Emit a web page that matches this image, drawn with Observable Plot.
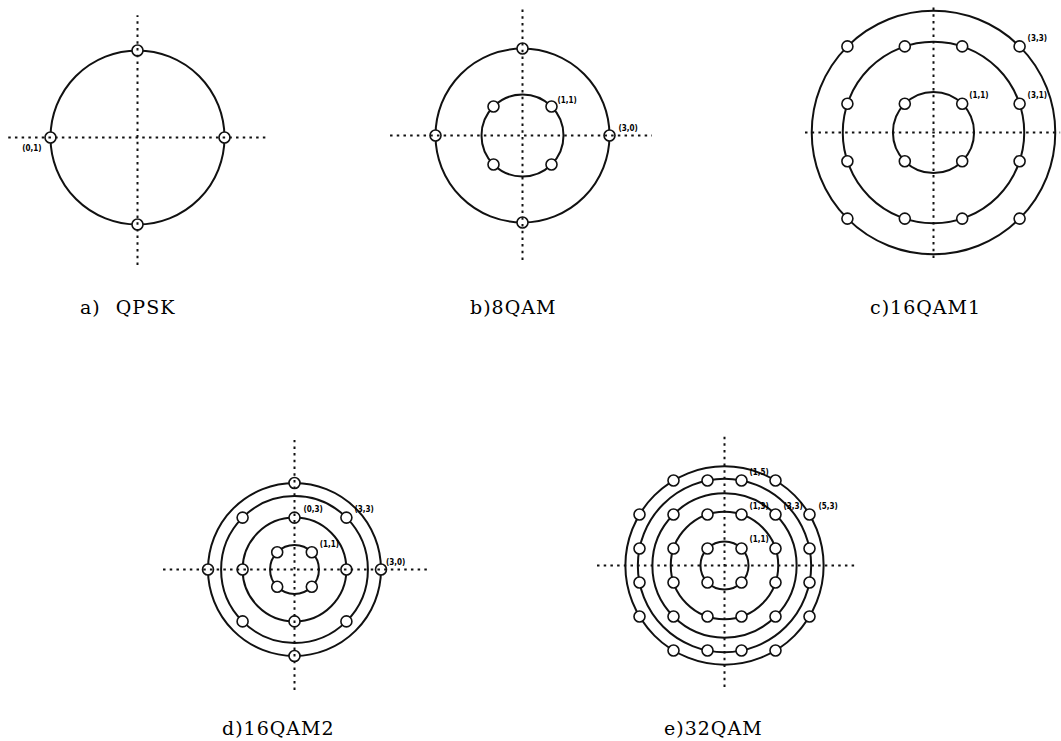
<!DOCTYPE html>
<html>
<head>
<meta charset="utf-8">
<script src="https://cdn.jsdelivr.net/npm/d3@7"></script>
<script src="https://cdn.jsdelivr.net/npm/@observablehq/plot@0.6"></script>
<style>
  html, body { margin: 0; padding: 0; background: #fff; overflow: hidden; }
  #page { position: relative; width: 1061px; height: 741px; }
  .panel { position: absolute; }
  .cap { position: absolute; font-family: "DejaVu Serif", serif; font-size: 19px;
         letter-spacing: 1px; word-spacing: 8px; color: #000; white-space: nowrap; line-height: 1; }
</style>
</head>
<body>
<div id="page"></div>
<script>
// ---- Data (constellation coordinates in grid units) ----
const captions = ["a) QPSK", "b)8QAM", "c)16QAM1", "d)16QAM2", "e)32QAM"];

const qpskPoints = [[1, 0], [0, 1], [-1, 0], [0, -1]];
const qpskRings = [1];
const qpskLabels = [{x: -1, y: 0, text: "(0,1)"}];

const qam8Points = [[1, 1], [-1, 1], [-1, -1], [1, -1], [3, 0], [0, 3], [-3, 0], [0, -3]];
const qam8Rings = [1.414, 3];
const qam8Labels = [{x: 1, y: 1, text: "(1,1)"}, {x: 3, y: 0, text: "(3,0)"}];

const qam16aPoints = [
  [1, 1], [-1, 1], [-1, -1], [1, -1],
  [1, 3], [-1, 3], [1, -3], [-1, -3], [3, 1], [-3, 1], [3, -1], [-3, -1],
  [3, 3], [-3, 3], [3, -3], [-3, -3]
];
const qam16aRings = [1.414, 3.162, 4.243];
const qam16aLabels = [{x: 1, y: 1, text: "(1,1)"}, {x: 3, y: 1, text: "(3,1)"}, {x: 3, y: 3, text: "(3,3)"}];

const qam16bPoints = [
  [1, 1], [-1, 1], [-1, -1], [1, -1],
  [0, 3], [3, 0], [0, -3], [-3, 0],
  [3, 3], [-3, 3], [3, -3], [-3, -3],
  [0, 5], [5, 0], [0, -5], [-5, 0]
];
const qam16bRings = [1.414, 3, 4.243, 5];
const qam16bLabels = [{x: 0, y: 3, text: "(0,3)"}, {x: 1, y: 1, text: "(1,1)"}, {x: 3, y: 3, text: "(3,3)"}, {x: 5, y: 0, text: "(3,0)"}];

const qam32Points = [
  [1, 1], [-1, 1], [-1, -1], [1, -1],
  [1, 3], [-1, 3], [1, -3], [-1, -3], [3, 1], [-3, 1], [3, -1], [-3, -1],
  [3, 3], [-3, 3], [3, -3], [-3, -3],
  [1, 5], [-1, 5], [1, -5], [-1, -5], [5, 1], [-5, 1], [5, -1], [-5, -1],
  [3, 5], [-3, 5], [3, -5], [-3, -5], [5, 3], [-5, 3], [5, -3], [-5, -3]
];
const qam32Rings = [1.414, 3.162, 4.243, 5.099, 5.831];
const qam32Labels = [
  {x: 1, y: 5, text: "(1,5)"}, {x: 1, y: 3, text: "(1,3)"}, {x: 3, y: 3, text: "(3,3)"},
  {x: 5, y: 3, text: "(5,3)"}, {x: 1, y: 1, text: "(1,1)"}
];

// ---- Layout (pixels) ----
const layouts = [
  {cx: 137, cy: 137, u: 87,   ax: [-1.48, 1.49], ay: [-1.47, 1.40], cap: [80, 298], lab: [{dx: -9, dy: 11, anchor: "end"}]},
  {cx: 522, cy: 135, u: 29,   ax: [-4.55, 4.48], ay: [-4.31, 4.41], cap: [470, 298], lab: [{dx: 6, dy: -6}, {dx: 9, dy: -7}]},
  {cx: 933, cy: 132, u: 28.7, ax: [-4.46, 4.43], ay: [-4.39, 4.42], cap: [870, 298], lab: [{dx: 7, dy: -8}, {dx: 8, dy: -8}, {dx: 8, dy: -8}]},
  {cx: 294, cy: 569, u: 17.3, ax: [-7.57, 7.69], ay: [-7.0, 7.46],  cap: [222, 719], lab: [{dx: 9, dy: -8}, {dx: 8, dy: -8}, {dx: 8, dy: -8}, {dx: 5, dy: -7}]},
  {cx: 724, cy: 565, u: 17,   ax: [-7.47, 7.7], ay: [-7.18, 7.65], cap: [664, 719], lab: [{dx: 8, dy: -8}, {dx: 8, dy: -8}, {dx: 8, dy: -8}, {dx: 9, dy: -8}, {dx: 8, dy: -9}]}
];

const sets = [
  {points: qpskPoints, rings: qpskRings, labels: qpskLabels},
  {points: qam8Points, rings: qam8Rings, labels: qam8Labels},
  {points: qam16aPoints, rings: qam16aRings, labels: qam16aLabels},
  {points: qam16bPoints, rings: qam16bRings, labels: qam16bLabels},
  {points: qam32Points, rings: qam32Rings, labels: qam32Labels}
];

const page = document.getElementById("page");
const HALF = 140;

sets.forEach((s, i) => {
  const L = layouts[i];
  const left = L.cx - HALF, top = L.cy - HALF, W = 2 * HALF, H = 2 * HALF;
  const labels = s.labels.map((d, j) => ({...d, ...L.lab[j]}));
  const dash = {stroke: "#111", strokeWidth: 2, strokeDasharray: "2.5,4.2"};
  const chart = Plot.plot({
    width: W, height: H, margin: 0,
    x: {domain: [(left - L.cx) / L.u, (left + W - L.cx) / L.u], axis: null},
    y: {domain: [(L.cy - (top + H)) / L.u, (L.cy - top) / L.u], axis: null},
    r: {type: "linear", domain: [0, 1], range: [0, L.u]},
    style: {background: "transparent", overflow: "visible"},
    marks: [
      Plot.dot(s.rings, {x: () => 0, y: () => 0, r: d => d, stroke: "#111", strokeWidth: 2, fill: "none"}),
      Plot.dot(s.points, {x: d => d[0], y: d => d[1], r: 5.5, stroke: "#111", strokeWidth: 1.6, fill: "white"}),
      Plot.ruleX([0], {y1: L.ay[0], y2: L.ay[1], ...dash}),
      Plot.ruleY([0], {x1: L.ax[0], x2: L.ax[1], ...dash}),
      ...labels.map(d => Plot.text([d], {
        x: "x", y: "y", text: "text", dx: d.dx, dy: d.dy,
        textAnchor: d.anchor || "start", fontSize: 8, fontWeight: "bold",
        fontFamily: "DejaVu Sans Condensed, DejaVu Sans, sans-serif", fill: "#000"
      }))
    ]
  });
  chart.classList.add("panel");
  chart.style.left = left + "px";
  chart.style.top = top + "px";
  page.appendChild(chart);

  const cap = document.createElement("div");
  cap.className = "cap";
  cap.textContent = captions[i];
  cap.style.left = L.cap[0] + "px";
  cap.style.top = L.cap[1] + "px";
  page.appendChild(cap);
});
</script>
</body>
</html>
